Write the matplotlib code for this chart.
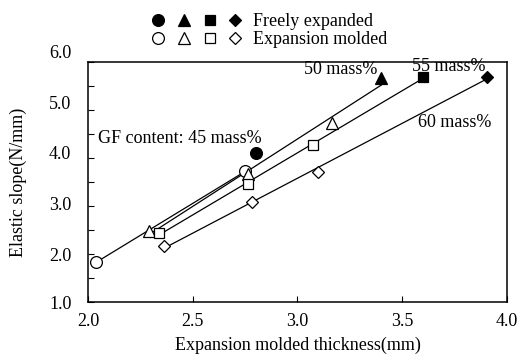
import numpy as np
import matplotlib
matplotlib.use("Agg")
import matplotlib.pyplot as plt
from matplotlib.legend_handler import HandlerTuple
from matplotlib.ticker import MultipleLocator, FormatStrFormatter
from matplotlib.transforms import ScaledTranslation

plt.rcParams['font.family'] = ['Liberation Serif', 'DejaVu Serif']
plt.rcParams['font.size'] = 13

# Data: expansion molded thickness (mm) vs elastic slope (N/mm)
# 45 mass%
x45_mold = [2.04, 2.75]
y45_mold = [1.83, 3.72]
x45_free = [2.80]
y45_free = [4.11]
# 50 mass%
x50_mold = [2.29, 2.765, 3.166]
y50_mold = [2.47, 3.67, 4.72]
x50_free = [3.40]
y50_free = [5.66]
# 55 mass%
x55_mold = [2.341, 2.765, 3.073]
y55_mold = [2.44, 3.46, 4.27]
x55_free = [3.60]
y55_free = [5.69]
# 60 mass%
x60_mold = [2.364, 2.784, 3.096]
y60_mold = [2.17, 3.09, 3.70]
x60_free = [3.903]
y60_free = [5.69]

fs = 13
fig = plt.figure(figsize=(5.25, 3.6), dpi=100)
ax = fig.add_axes([0.1676, 0.1611, 0.7981, 0.6667])

lw = 0.9
def trend(xs, ys):
    xs = np.asarray(xs); ys = np.asarray(ys)
    k, b = np.polyfit(xs, ys, 1)
    xx = np.array([xs.min(), xs.max()])
    ax.plot(xx, k * xx + b, color='black', lw=lw, zorder=1)

trend(x45_mold, y45_mold)
trend(x50_mold + x50_free, y50_mold + y50_free)
trend(x55_mold + x55_free, y55_mold + y55_free)
trend(x60_mold + x60_free, y60_mold + y60_free)

ms = dict(linestyle='none', markeredgecolor='black', markeredgewidth=0.9, zorder=3)
f45, = ax.plot(x45_free, y45_free, marker='o', markersize=8.5, markerfacecolor='black', **ms)
f50, = ax.plot(x50_free, y50_free, marker='^', markersize=8.5, markerfacecolor='black', **ms)
f55, = ax.plot(x55_free, y55_free, marker='s', markersize=7.5, markerfacecolor='black', **ms)
f60, = ax.plot(x60_free, y60_free, marker='D', markersize=6, markerfacecolor='black', **ms)
m45, = ax.plot(x45_mold, y45_mold, marker='o', markersize=8.5, markerfacecolor='white', **ms)
m50, = ax.plot(x50_mold, y50_mold, marker='^', markersize=8.5, markerfacecolor='white', **ms)
m55, = ax.plot(x55_mold, y55_mold, marker='s', markersize=7.5, markerfacecolor='white', **ms)
m60, = ax.plot(x60_mold, y60_mold, marker='D', markersize=6, markerfacecolor='white', **ms)

ax.set_xlim(2.0, 4.0)
ax.set_ylim(1.0, 6.0)
ax.xaxis.set_major_locator(MultipleLocator(0.5))
ax.yaxis.set_major_locator(MultipleLocator(1.0))
ax.yaxis.set_minor_locator(MultipleLocator(0.5))
ax.xaxis.set_major_formatter(FormatStrFormatter('%.1f'))
ax.yaxis.set_major_formatter(FormatStrFormatter('%.1f'))
ax.tick_params(axis='both', which='both', direction='in', length=4, width=0.8,
               top=False, right=False, labelsize=fs)
ax.tick_params(axis='y', which='major', pad=12)
ax.tick_params(axis='x', which='major', pad=8)
for s in ax.spines.values():
    s.set_linewidth(1.1)

ax.set_xlabel('Expansion molded thickness(mm)', fontsize=fs, labelpad=5)
ax.set_ylabel('Elastic slope(N/mm)', fontsize=fs, labelpad=16)

# y tick labels in the reference sit progressively higher than their ticks
fig.canvas.draw()
for lab in ax.get_yticklabels():
    try:
        v = float(lab.get_text())
    except ValueError:
        continue
    dy = max(0.0, (v - 2.0)) * 1.8 / 72.0
    lab.set_transform(lab.get_transform() + ScaledTranslation(0, dy, fig.dpi_scale_trans))

ax.text(2.05, 4.40, 'GF content: 45 mass%', fontsize=fs, va='center', ha='left')
ax.text(3.03, 5.85, '50 mass%', fontsize=fs, va='center', ha='left')
ax.text(3.547, 5.90, '55 mass%', fontsize=fs, va='center', ha='left')
ax.text(3.575, 4.73, '60 mass%', fontsize=fs, va='center', ha='left')

leg = fig.legend(handles=[(f45, f50, f55, f60), (m45, m50, m55, m60)],
                 labels=['Freely expanded', 'Expansion molded'],
                 handler_map={tuple: HandlerTuple(ndivide=None, pad=0.7)},
                 loc='upper center', bbox_to_anchor=(0.513, 1.009), frameon=False,
                 handlelength=5.0, handletextpad=0.6, labelspacing=0.05,
                 fontsize=fs)

fig.savefig('out.png', dpi=100)
